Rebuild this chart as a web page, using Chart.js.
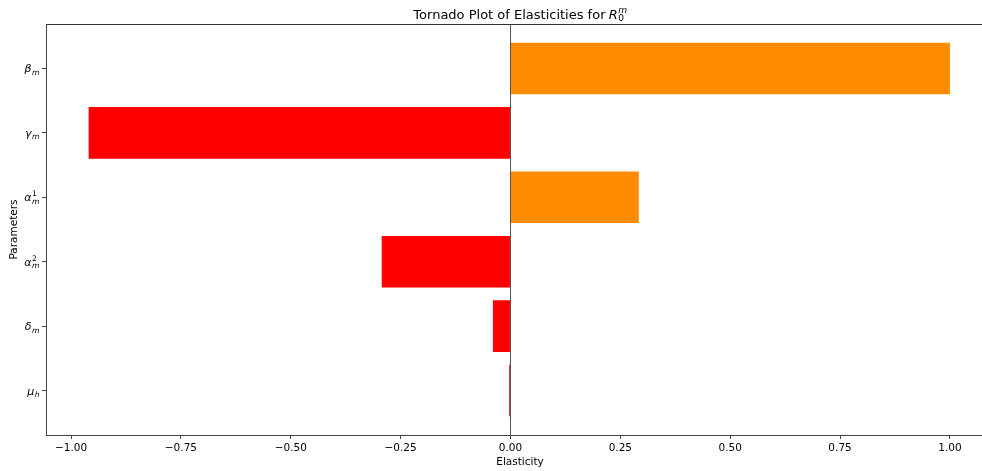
<!DOCTYPE html>
<html>
<head>
<meta charset="utf-8">
<script src="https://cdn.jsdelivr.net/npm/chart.js@4/dist/chart.umd.min.js"></script>
<style>
  html, body { margin: 0; padding: 0; background: #fff; }
  #wrap { width: 982px; height: 471px; }
</style>
</head>
<body>
<div id="wrap"><canvas id="c" width="982" height="471"></canvas></div>
<script>
// Parameters, listed top to bottom: symbol, subscript, superscript
const paramSymbols = ['β', 'γ', 'α', 'α', 'δ', 'μ'];
const paramSubs    = ['m', 'm', 'm', 'm', 'm', 'h'];
const paramSups    = ['',  '',  '1', '2', '',  ''];

// Elasticity of R0^m with respect to each parameter
const elasticity = [1.0, -0.96, 0.292, -0.293, -0.040, -0.003];

// Elasticity axis ticks
const xTickValues = [-1.0, -0.75, -0.5, -0.25, 0.0, 0.25, 0.5, 0.75, 1.0];

const POS_COLOR = '#ff8c00';
const NEG_COLOR = '#ff0000';
const AXIS_COLOR = '#444';
const FONT = '"DejaVu Sans", sans-serif';

// Draws a symbol with an optional subscript / superscript, right-aligned at xRight
function drawMath(ctx, base, sub, sup, xRight, baseline, size, baseItalic) {
  const small = size * 0.7;
  ctx.font = (baseItalic ? 'italic ' : '') + size + 'px ' + FONT;
  const bw = ctx.measureText(base).width;
  ctx.font = 'italic ' + small + 'px ' + FONT;
  const sw = Math.max(sub ? ctx.measureText(sub).width : 0, sup ? ctx.measureText(sup).width : 0);
  const x0 = xRight - bw - sw;
  ctx.textAlign = 'left';
  ctx.textBaseline = 'alphabetic';
  ctx.font = (baseItalic ? 'italic ' : '') + size + 'px ' + FONT;
  ctx.fillText(base, x0, baseline);
  if (sub) {
    ctx.font = (/[0-9]/.test(sub) ? '' : 'italic ') + small + 'px ' + FONT;
    ctx.fillText(sub, x0 + bw + 0.5, baseline + size * 0.22);
  }
  if (sup) {
    ctx.font = (/[0-9]/.test(sup) ? '' : 'italic ') + small + 'px ' + FONT;
    ctx.fillText(sup, x0 + bw + 0.5, baseline - size * 0.45);
  }
  return bw + sw;
}

const decorations = {
  id: 'decorations',
  afterDatasetsDraw(chart) {
    const { ctx, chartArea, scales } = chart;
    ctx.save();
    // vertical reference line at zero elasticity
    const x0 = Math.round(scales.x.getPixelForValue(0)) + 0.5;
    ctx.strokeStyle = '#555';
    ctx.lineWidth = 1;
    ctx.beginPath();
    ctx.moveTo(x0, chartArea.top);
    ctx.lineTo(x0, chartArea.bottom);
    ctx.stroke();
    // top spine
    ctx.strokeStyle = '#333';
    ctx.beginPath();
    ctx.moveTo(chartArea.left, Math.round(chartArea.top) + 0.5);
    ctx.lineTo(chartArea.right, Math.round(chartArea.top) + 0.5);
    ctx.stroke();
    ctx.restore();
  },
  afterDraw(chart) {
    const { ctx, chartArea, scales } = chart;
    const midX = (chartArea.left + chartArea.right) / 2 + 6;
    ctx.save();
    ctx.fillStyle = '#000';

    // parameter tick labels
    paramSymbols.forEach((s, i) => {
      const y = scales.y.getPixelForValue(i);
      drawMath(ctx, s, paramSubs[i], paramSups[i], chartArea.left - 7, y + 4, 11, true);
    });

    // title
    ctx.font = '13px ' + FONT;
    const head = 'Tornado Plot of Elasticities for ';
    const hw = ctx.measureText(head).width;
    ctx.font = 'italic 13px ' + FONT;
    const rw = ctx.measureText('R').width + 8;
    const left = midX - (hw + rw) / 2;
    ctx.font = '13px ' + FONT;
    ctx.textAlign = 'left';
    ctx.textBaseline = 'alphabetic';
    ctx.fillText(head, left, 18.5);
    drawMath(ctx, 'R', '0', 'm', left + hw + rw, 18.5, 13, true);

    // axis titles
    ctx.font = '10.5px ' + FONT;
    ctx.textAlign = 'center';
    ctx.textBaseline = 'alphabetic';
    ctx.fillText('Elasticity', midX, 465);
    ctx.translate(17, (chartArea.top + chartArea.bottom) / 2);
    ctx.rotate(-Math.PI / 2);
    ctx.fillText('Parameters', 0, 0);
    ctx.restore();
  }
};

new Chart(document.getElementById('c'), {
  type: 'bar',
  data: {
    datasets: [{
      data: elasticity.map((v, i) => ({ x: v, y: i })),
      backgroundColor: elasticity.map(v => v >= 0 ? POS_COLOR : NEG_COLOR),
      borderWidth: 0,
      barPercentage: 0.8,
      categoryPercentage: 1.0
    }]
  },
  options: {
    indexAxis: 'y',
    responsive: false,
    animation: false,
    layout: { padding: { top: 24, left: 0, right: 0, bottom: 0 } },
    plugins: {
      legend: { display: false },
      title: { display: false },
      tooltip: { enabled: false }
    },
    scales: {
      x: {
        type: 'linear',
        min: -1.057,
        max: 1.073,
        afterBuildTicks: s => { s.ticks = xTickValues.map(v => ({ value: v })); },
        afterFit: s => { s.height = 36; },
        grid: { drawOnChartArea: false, drawTicks: true, tickLength: 4, color: AXIS_COLOR },
        border: { display: true, color: AXIS_COLOR, width: 1 },
        ticks: {
          color: '#000',
          padding: 3,
          maxRotation: 0,
          font: { family: FONT, size: 10.5 },
          callback: v => (v < 0 ? '\u2212' : '') + Math.abs(v).toFixed(2)
        }
      },
      y: {
        type: 'linear',
        reverse: true,
        offset: false,
        min: -0.69,
        max: 5.69,
        afterBuildTicks: s => { s.ticks = paramSymbols.map((_, i) => ({ value: i })); },
        afterFit: s => { s.width = 46; },
        grid: { offset: false, drawOnChartArea: false, drawTicks: true, tickLength: 4, color: AXIS_COLOR },
        border: { display: true, color: AXIS_COLOR, width: 1 },
        ticks: { display: false }
      }
    }
  },
  plugins: [decorations]
});
</script>
</body>
</html>
